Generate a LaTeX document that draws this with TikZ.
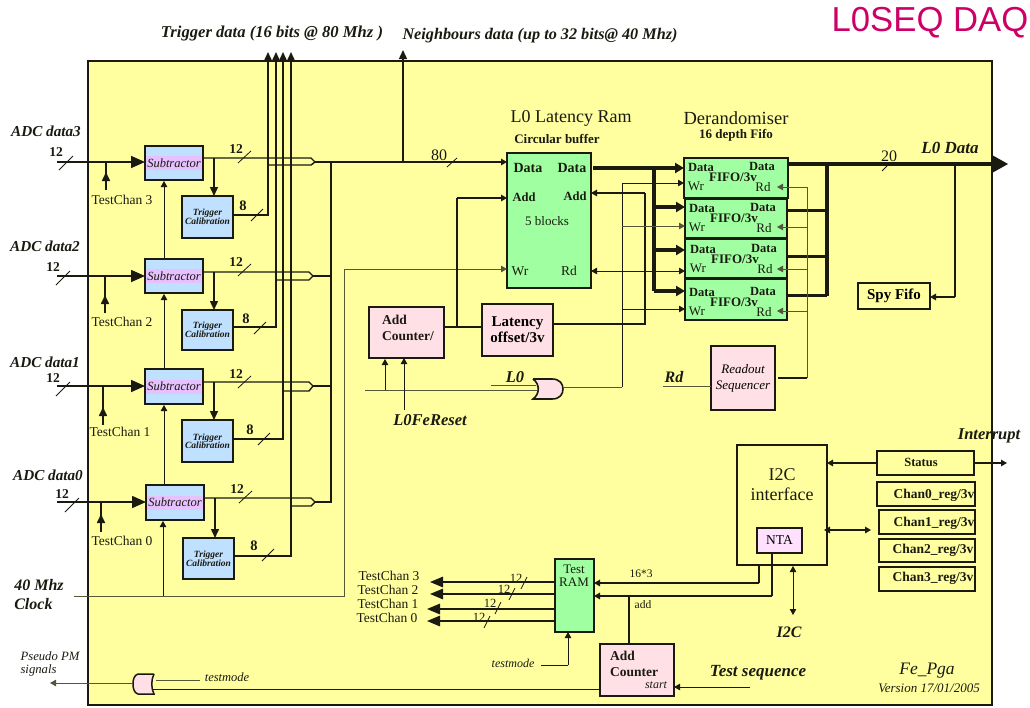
\documentclass[tikz,border=0pt]{standalone}
\usepackage{fontspec}
\setmainfont{Liberation Serif}
\newfontfamily\titlefont{Liberation Sans}
\usetikzlibrary{arrows.meta,calc}
\definecolor{bgy}{HTML}{FFFFA0}
\definecolor{boxblue}{HTML}{C0E0FF}
\definecolor{boxpink}{HTML}{FFE0E6}
\definecolor{boxgreen}{HTML}{A0FFA0}
\definecolor{bandlil}{HTML}{E6C0FF}
\definecolor{ntalil}{HTML}{FFE0FF}
\definecolor{ink}{HTML}{1A1A10}
\definecolor{oliv}{HTML}{55553A}
\definecolor{titlec}{HTML}{CC0066}
\newcommand\fsz[1]{\fontsize{#1}{#1}\selectfont}
\newcommand\boxat[7]{%
  \pgfmathsetmacro\cxx{(#3+#5)/2}\pgfmathsetmacro\cyy{(#4+#6)/2}%
  \pgfmathsetmacro\ww{#5-#3}\pgfmathsetmacro\hh{#6-#4}%
  \node[#2,minimum width=\ww pt,minimum height=\hh pt,inner sep=0pt,outer sep=0pt] (#1) at (\cxx,\cyy) {#7};}
\newcommand\subtr[5]{%
  \boxat{#1}{subbox}{#2}{#3}{#4}{#5}{}
  \fill[bandlil] (#2+1,{(#3+#5)/2-7}) rectangle (#4-1,{(#3+#5)/2+7});
  \node[lbl,font=\fsz{12.5}\itshape] at (#1.center) {Subtractor};}
\tikzset{
  frame/.style={draw=ink,line width=1.6pt},
  subbox/.style={frame,fill=boxblue},
  calbox/.style={frame,fill=boxblue,align=center,font=\fsz{9.5}\itshape\bfseries\boldmath,text=ink},
  pinkbox/.style={frame,fill=boxpink,align=center},
  greenbox/.style={frame,fill=boxgreen,align=center},
  plainbox/.style={frame,align=center,font=\fsz{11}\bfseries},
  lbl/.style={inner sep=0pt,text=ink},
  bi/.style={lbl,font=\fsz{15.2}\bfseries\itshape},
  rr/.style={lbl,font=\fsz{13.5}},
  wire/.style={draw=ink,line width=1.4pt},
  thinw/.style={draw=oliv,line width=1pt},
  heavy/.style={draw=ink,line width=3.4pt},
  arrS/.style={-{Triangle[length=6pt,width=6.5pt]}},
  arrT/.style={-{Triangle[length=9pt,width=8pt]}},
  arrM/.style={-{Triangle[length=9pt,width=8pt]}},
  arrB/.style={-{Triangle[length=13pt,width=10.5pt]}},
  arrL/.style={-{Triangle[length=14pt,width=12pt]}},
  arrH/.style={-{Triangle[length=9pt,width=10pt]}},
  arrD/.style={{Triangle[length=6pt,width=6.5pt]}-{Triangle[length=6pt,width=6.5pt]}},
  slashm/.style={draw=ink,line width=.8pt}
}
\newcommand\fifotext[2]{%
  \node[lbl,font=\fsz{12.5}\bfseries] at (#1+18,#2+9) {Data};
  \node[lbl,font=\fsz{12.5}\bfseries] at (#1+79,#2+8) {Data};
  \node[lbl,font=\fsz{13}\bfseries] at (#1+50,#2+19) {FIFO/3v};
  \node[lbl,font=\fsz{13}] at (#1+13,#2+28) {Wr};
  \node[lbl,font=\fsz{13}] at (#1+80,#2+29) {Rd};}
\begin{document}
\begin{tikzpicture}[x=1pt,y=-1pt]
\useasboundingbox (0,0) rectangle (1030,707);
% frame
\node[draw=ink,line width=1.4pt,fill=bgy,minimum width=904pt,minimum height=644pt,inner sep=0pt,outer sep=0pt] (chip) at (540,383) {};
% title and top labels
\node[lbl,text=titlec,font=\titlefont\fsz{34.7}] (title) at (930,23) {L0SEQ DAQ};
\node[bi,font=\fsz{16.6}\bfseries\itshape] (trigl) at (272,34) {Trigger data (16 bits @ 80 Mhz )};
\node[bi,font=\fsz{16.2}\bfseries\itshape] (neighl) at (540,36) {Neighbours data (up to 32 bits@ 40 Mhz)};

% boxes
\subtr{s3}{145}{146}{203}{180}
\subtr{s2}{145}{259}{203}{293}
\subtr{s1}{145}{369}{203}{404}
\subtr{s0}{146}{485}{204}{520}
\boxat{t3}{calbox}{182}{196}{233}{238}{Trigger\\[-1pt]Calibration}
\boxat{t2}{calbox}{182}{310}{233}{350}{Trigger\\[-1pt]Calibration}
\boxat{t1}{calbox}{182}{420}{233}{462}{Trigger\\[-1pt]Calibration}
\boxat{t0}{calbox}{183}{538}{234}{579}{Trigger\\[-1pt]Calibration}
\boxat{ram}{greenbox}{507}{153}{591}{288}{}
\boxat{f1}{greenbox}{684}{158}{788}{198}{}
\boxat{f2}{greenbox}{685}{199}{787}{238}{}
\boxat{f3}{greenbox}{685}{239}{787}{278}{}
\boxat{f4}{greenbox}{685}{279}{787}{320}{}
\boxat{ac}{pinkbox}{369}{307}{444}{358}{}
\boxat{lat}{pinkbox,font=\fsz{15}\bfseries}{482}{304}{553}{356}{Latency\\[1pt]offset/3v}
\boxat{ros}{pinkbox,font=\fsz{13}\itshape}{711}{346}{775}{410}{Readout\\[3pt]Sequencer}
\boxat{spy}{plainbox,font=\fsz{15}\bfseries}{858}{283}{930}{309}{Spy Fifo}
\boxat{i2c}{frame}{737}{445}{827}{565}{}
\boxat{nta}{frame,fill=ntalil,font=\fsz{13.5}}{757}{528}{802}{553}{NTA}
\boxat{st}{plainbox}{877}{451}{974}{475}{}
\boxat{c0}{plainbox}{877}{482}{975}{506}{}
\boxat{c1}{plainbox}{879}{510}{975}{534}{}
\boxat{c2}{plainbox}{879}{539}{975}{562}{}
\boxat{c3}{plainbox}{879}{567}{975}{591}{}
\boxat{tr}{greenbox}{555}{559}{594}{632}{}
\boxat{ac2}{pinkbox}{600}{644}{674}{696}{}

% box texts
\node[lbl,font=\fsz{18}] (ramt) at (571,118) {L0 Latency Ram};
\node[lbl,font=\fsz{13}\bfseries] (ramt2) at (557,139) {Circular buffer};
\node[lbl,font=\fsz{14}\bfseries] at (528,168) {Data};
\node[lbl,font=\fsz{14}\bfseries] at (572,168) {Data};
\node[lbl,font=\fsz{12.5}\bfseries] at (524,197) {Add};
\node[lbl,font=\fsz{12.5}\bfseries] at (575,196) {Add};
\node[lbl,font=\fsz{13}] at (547,221) {5 blocks};
\node[lbl,font=\fsz{13.5}] at (520,271) {Wr};
\node[lbl,font=\fsz{13.5}] at (569,271) {Rd};
\node[lbl,font=\fsz{18.5}] (dert) at (736,118) {Derandomiser};
\node[lbl,font=\fsz{13}\bfseries] (dert2) at (736,135) {16 depth Fifo};
\fifotext{683}{158}
\fifotext{684}{199}
\fifotext{685}{240}
\fifotext{684}{283}
\node[lbl,font=\fsz{13.5}\bfseries,align=left] at (408,328) {Add\\[3pt]Counter/};
\node[lbl,font=\fsz{13.5}\bfseries,align=left] at (634,664) {Add\\[2pt]Counter};
\node[lbl,font=\fsz{12}\itshape] at (656,685) {start};
\node[lbl,font=\fsz{18},align=center] at (782,485) {I2C\\[2pt]interface};
\node[lbl,font=\fsz{12.5}\bfseries] at (921,462) {Status};
\node[lbl,font=\fsz{13.5}\bfseries] at (934,495) {Chan0\_reg/3v};
\node[lbl,font=\fsz{13.5}\bfseries] at (934,523) {Chan1\_reg/3v};
\node[lbl,font=\fsz{13.5}\bfseries] at (933,550) {Chan2\_reg/3v};
\node[lbl,font=\fsz{13.5}\bfseries] at (933,578) {Chan3\_reg/3v};
\node[lbl,font=\fsz{13},align=center] at (574,576) {Test\\[0pt]RAM};

% channel 3
\coordinate (in3) at (57,162); \coordinate (tc3) at (106,190);
\draw[wire,line width=1.6pt,arrL] (in3) -- (in3 -| s3.west);
\draw[wire] (tc3) -- (tc3 |- in3); \draw[wire,line width=1.6pt,arrM] (tc3) -- ++(0,-18);
\coordinate (h3) at (315,162);
\draw[wire] (s3.east |- 0,158) -- (311,158) -- (h3) -- (311,165) -- (268,165);
\draw[wire,arrM] (214,158) -- (214,196);
\draw[wire] (t3.east |- 0,215) -- (268,215) -- (268,61);
\draw[wire,arrT] (268,62) -- (268,52);
% channel 2
\coordinate (in2) at (57,276); \coordinate (tc2) at (105,313);
\draw[wire,line width=1.6pt,arrL] (in2) -- (in2 -| s2.west);
\draw[wire] (tc2) -- (tc2 |- in2); \draw[wire,line width=1.6pt,arrM] (tc2) -- ++(0,-18);
\coordinate (h2) at (313,276);
\draw[wire] (s2.east |- 0,272) -- (309,272) -- (h2) -- (309,280) -- (276,280);
\draw[wire,arrM] (214,272) -- (214,310);
\draw[wire] (t2.east |- 0,327) -- (276,327) -- (276,61);
\draw[wire,arrT] (276,62) -- (276,52);
% channel 1
\coordinate (in1) at (57,386); \coordinate (tc1) at (103,425);
\draw[wire,line width=1.6pt,arrL] (in1) -- (in1 -| s1.west);
\draw[wire] (tc1) -- (tc1 |- in1); \draw[wire,line width=1.6pt,arrM] (tc1) -- ++(0,-18);
\coordinate (h1) at (313,386);
\draw[wire] (s1.east |- 0,382) -- (309,382) -- (h1) -- (309,391) -- (283,391);
\draw[wire,arrM] (214,382) -- (214,420);
\draw[wire] (t1.east |- 0,439) -- (283,439) -- (283,61);
\draw[wire,arrT] (283,62) -- (283,52);
% channel 0
\coordinate (in0) at (57,502); \coordinate (tc0) at (101,532);
\draw[wire,line width=1.6pt,arrL] (in0) -- (in0 -| s0.west);
\draw[wire] (tc0) -- (tc0 |- in0); \draw[wire,line width=1.6pt,arrM] (tc0) -- ++(0,-18);
\coordinate (h0) at (315,502);
\draw[wire] (s0.east |- 0,498) -- (311,498) -- (h0) -- (311,506) -- (291,506);
\draw[wire,arrM] (215,498) -- (215,538);
\draw[wire] (t0.east |- 0,556) -- (291,556) -- (291,61);
\draw[wire,arrT] (291,62) -- (291,52);

% output bus
\coordinate (busb) at (331,502); \coordinate (bust) at (331,162); \coordinate (nb) at (403,162);
\draw[wire] (h0) -- (busb) -- (bust);
\draw[wire] (h1) -- (h1 -| bust);
\draw[wire] (h2) -- (h2 -| bust);
\draw[wire,arrS] (h3) -- (h3 -| ram.west);
\draw[wire,arrM] (nb) -- (403,50);
\draw[slashm] (447,167) -- (457,158);
\node[lbl,font=\fsz{16}] at (439,155) {80};
% clock
\coordinate (clk) at (74,596); \coordinate (clkr) at (344,596); \coordinate (clku) at (344,269);
\draw[thinw] (clk) -- (clkr) -- (clku);
\draw[thinw,arrS] (clku) -- (clku -| ram.west);
\draw[wire,line width=1pt,arrS] (163,596) -- (163,521);
\draw[wire,line width=1pt,arrS] (164,485) -- (164,405);
\draw[wire,line width=1pt,arrS] (164,369) -- (164,294);
\draw[wire,line width=1pt,arrS] (164,259) -- (164,181);
% add counter etc
\coordinate (aj) at (457,327); \coordinate (aju) at (457,198);
\draw[wire] (ac.east |- aj) -- (lat.west |- aj);
\draw[wire] (aj) -- (aju);
\draw[wire,arrS] (aju) -- (aju -| ram.west);
\coordinate (ladd) at (645,324);
\draw[wire] (lat.east |- ladd) -- (ladd) -- (645,193);
\draw[wire,arrS] (645,193) -- (ram.east |- 0,193);
% heavy data
\draw[heavy,arrH] (593,168) -- (684,168);
\draw[heavy] (654,168) -- (654,291);
\draw[heavy,arrH] (654,207) -- (685,207);
\draw[heavy,arrH] (654,250) -- (685,250);
\draw[heavy,arrH] (654,291) -- (685,291);
% Wr lines
\coordinate (wrt) at (622,183); \coordinate (wrb) at (622,387);
\draw[wire,line width=.9pt] (wrb) -- (wrt);
\draw[wire,line width=.9pt,arrS] (wrt) -- (f1.west |- wrt);
\draw[thinw,arrS] (622,226) -- (f2.west |- 0,226);
\draw[wire,line width=.9pt,arrS] (622,271) -- (f3.west |- 0,271);
\draw[wire,line width=.9pt,arrS] (622,271) -- (ram.east |- 0,271);
\draw[wire,line width=.9pt,arrS] (622,309) -- (f4.west |- 0,309);
% L0 gate
\coordinate (l0a) at (491,385); \coordinate (rsta) at (365,390);
\path[draw=ink,line width=1.6pt,fill=boxpink] (533,379) -- (552,379) .. controls (560,379) and (563,384) .. (563,389) .. controls (563,394) and (560,399) .. (552,399) -- (533,399) .. controls (540,394) and (540,384) .. (533,379);
\draw[thinw] (l0a) -- (536,385);
\draw[thinw] (rsta) -- (538,390);
\draw[thinw] (563,387) -- (wrb);
\draw[wire,line width=1pt,arrS] (385,390) -- (385,359);
\coordinate (rst) at (404,410);
\draw[wire,line width=.8pt,arrS] (rst) -- (rst |- ac.south);
\node[lbl,font=\fsz{16.5}\bfseries\itshape] at (515,377) {L0};
\node[bi,font=\fsz{16.5}\bfseries\itshape] at (430,420) {L0FeReset};
% FIFO out
\coordinate (dout) at (992,164);
\draw[heavy] (788,164) -- (dout);
\draw[draw=none,fill=ink] (992,155) -- (1008,164) -- (992,173) -- cycle;
\draw[heavy] (827,164) -- (827,296);
\draw[heavy,line width=3pt] (788,210) -- (827,210);
\draw[heavy,line width=3pt] (788,256) -- (827,256);
\draw[heavy,line width=3pt] (788,295) -- (827,295);
\draw[slashm] (882,171) -- (887,166);
\node[lbl,font=\fsz{16}] at (889,156) {20};
\node[bi,font=\fsz{17}\bfseries\itshape] at (950,148) {L0 Data};
\coordinate (spj) at (955,297);
\draw[wire] (955,164) -- (spj);
\draw[wire,line width=1.8pt,arrS] (spj) -- (spy.east |- spj);
% Rd lines
\coordinate (rdb) at (807,378);
\draw[wire,line width=1.2pt] (778,378) -- (rdb);
\draw[thinw] (rdb) -- (807,187);
\draw[thinw,arrS] (807,187) -- (777,187);
\draw[thinw,arrS] (807,227) -- (777,227);
\draw[thinw,arrS] (807,269) -- (777,269);
\draw[thinw,arrS] (807,311) -- (777,311);
\coordinate (rdin) at (663,386);
\draw[thinw] (rdin) -- (rdin -| ros.west);
\node[lbl,font=\fsz{16}\bfseries\itshape] at (674,377) {Rd};
% I2C
\draw[wire,line width=1.8pt,arrS] (st.west) -- (st.west -| i2c.east);
\draw[wire,arrS] (973,463) -- (1007,463);
\node[lbl,font=\fsz{16.5}\bfseries\itshape] at (989,436) {Interrupt};
\draw[wire,line width=1.6pt,arrD] (824,530) -- (871,530);
\coordinate (i2cb) at (793,615);
\draw[wire,line width=.8pt,arrD] (793,566) -- (i2cb);
\node[bi,font=\fsz{16}\bfseries\itshape] at (789,632) {I2C};
% test ram
\coordinate (d1) at (759,583); \coordinate (d2) at (772,596);
\draw[wire] (759,565) -- (d1);
\draw[wire,arrS] (d1) -- (tr.east |- d1);
\draw[wire] (772,553) -- (d2);
\draw[wire,arrS] (d2) -- (tr.east |- d2);
\draw[wire] (629,596) -- (629,644);
\node[lbl,font=\fsz{11.5}] at (641,574) {16*3};
\node[lbl,font=\fsz{11.5}] at (643,605) {add};
% testchan outputs
\foreach \yy/\xx in {582/430,594/430,609/427,621/427}{
  \draw[wire,arrB] (tr.west |- 0,\yy) -- (\xx,\yy);}
\node[rr] at (389,576) {TestChan  3};
\node[rr] at (388,590) {TestChan  2};
\node[rr] at (388,604) {TestChan  1};
\node[rr] at (387,618) {TestChan  0};
\foreach \xx/\yy in {516/578,504/589,490/603,479/617}{
  \node[lbl,font=\fsz{12.5}] at (\xx,\yy) {12};
  \draw[slashm] (\xx+5,\yy+11) -- (\xx+11,\yy-1);}
% bottom
\coordinate (tm2) at (541,665);
\draw[wire,line width=1pt] (tm2) -- (568,665);
\draw[wire,line width=1pt,arrS] (568,665) -- (tr.south -| 568,0);
\node[lbl,font=\fsz{12}\itshape] at (513,663) {testmode};
\coordinate (ts) at (750,687);
\draw[wire,line width=.8pt,arrS] (ts) -- (ts -| ac2.east);
\node[bi,font=\fsz{17}\bfseries\itshape] at (758,673) {Test sequence};
\node[lbl,font=\fsz{17.5}\itshape] at (927,671) {Fe\_Pga};
\node[lbl,font=\fsz{13}\itshape] at (929,688) {Version 17/01/2005};
% pseudo gate
\coordinate (g0) at (133,683); \coordinate (pm) at (50,683);
\path[draw=ink,line width=1.5pt,fill=boxpink] (154,674) -- (138,674) .. controls (134,675) and (133,680) .. (133,684) .. controls (133,688) and (134,693) .. (138,694) -- (154,694) .. controls (151,688) and (151,680) .. (154,674);
\draw[wire,line width=.9pt] (ac2.west |- 0,689) -- (153,689);
\draw[thinw,arrS] (g0) -- (pm);
\coordinate (tm1) at (200,680);
\draw[thinw] (tm1) -- (156,680);
\node[lbl,font=\fsz{12.5}\itshape] at (227,677) {testmode};
\node[lbl,font=\fsz{12.7}\itshape,align=left] at (50,664) {Pseudo PM\\[1pt]signals};
% left labels
\node[bi] at (46,131) {ADC data3};
\node[bi] at (45,246) {ADC data2};
\node[bi] at (45,362) {ADC data1};
\node[bi] at (48,475) {ADC data0};
\node[lbl,font=\fsz{16}\bfseries\itshape,align=left] at (39,595) {40 Mhz\\[3pt]Clock};
\foreach \xx/\yy in {56/152,53/267,53/378,62/494}{
  \node[lbl,font=\fsz{13.5}\bfseries] at (\xx,\yy) {12};
  \draw[slashm] (\xx+3,\yy+18) -- (\xx+17,\yy+4);}
\node[rr] at (122,200) {TestChan  3};
\node[rr] at (122,322) {TestChan  2};
\node[rr] at (120,432) {TestChan  1};
\node[rr] at (122,541) {TestChan  0};
\foreach \xx/\yy in {236/149,236/262,236/374,237/489}{
  \node[lbl,font=\fsz{13.5}\bfseries] at (\xx,\yy) {12};
  \draw[slashm] (\xx+2,\yy+14) -- (\xx+15,\yy+2);}
\foreach \xx/\yy in {243/206,246/319,250/430,254/546}{
  \node[lbl,font=\fsz{14.5}\bfseries] at (\xx,\yy) {8};
  \draw[slashm] (\xx+8,\yy+15) -- (\xx+20,\yy+3);}
\end{tikzpicture}
\end{document}
